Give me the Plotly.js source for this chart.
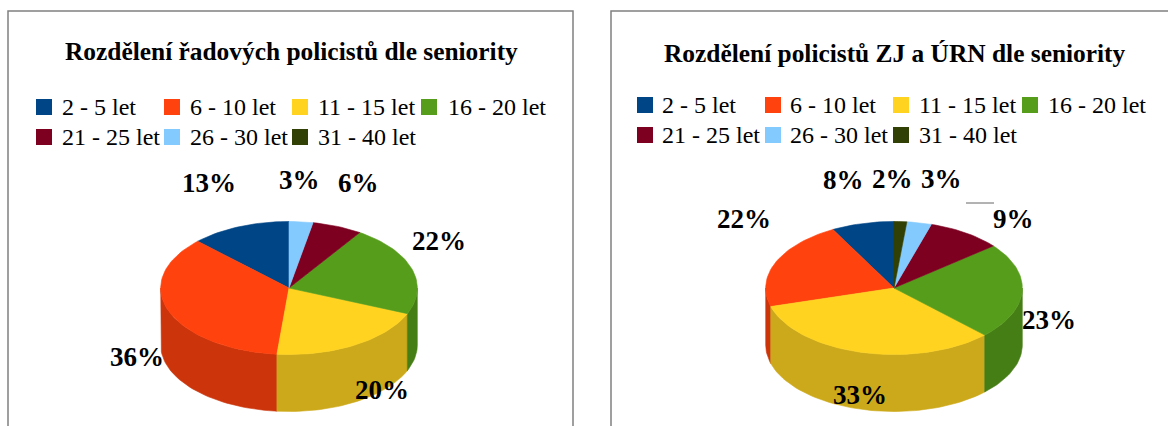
<!DOCTYPE html>
<html>
<head>
<meta charset="utf-8">
<script src="https://cdn.plot.ly/plotly-3.0.1.min.js"></script>
<style>html,body{margin:0;padding:0;background:#fff;overflow:hidden}#c{width:1168px;height:426px}</style>
</head>
<body>
<div id="c"></div>
<script>
// ---- data ----
const categories = ['2 - 5 let','6 - 10 let','11 - 15 let','16 - 20 let','21 - 25 let','26 - 30 let','31 - 40 let'];
const valuesLeft  = [12.6, 35.9, 20.2, 22.0, 6.3, 3.0, 0];
const valuesRight = [7.9, 21.6, 33.0, 23.4, 9.4, 3.1, 1.6];
const sliceColors = ['#004586','#ff420e','#ffd320','#579d1c','#7e0021','#83caff','#314004'];
const wallColors  = ['#00386b','#cc350b','#cca91a','#467e16','#65001a','#699fcc','#273303'];
const titleLeft  = 'Rozdělení řadových policistů dle seniority';
const titleRight = 'Rozdělení policistů ZJ a ÚRN dle seniority';

// ---- layout of the two panels (pixel-scaled axes) ----
const panels = [
  { values: valuesLeft, title: titleLeft, box: [8, 573], titleAt: [291, 51],
    cx: 289, legendX: [[44,59.5],[172,187.5],[300,316],[429,445.5]], legendY: [107,137],
    labels: [[209,183],[137,357],[382,390],[439,241],[358,183],[299,180],null] },
  { values: valuesRight, title: titleRight, box: [611, 1180], titleAt: [895, 53],
    cx: 894, legendX: [[645,659.5],[773,787.5],[901,916.5],[1030,1046]], legendY: [105,135],
    labels: [[843,180],[744,219],[860,395],[1049,320],[1013,219],[941,179],[892,179]] }
];
const RX = 128.3, RY = 66.5, DEPTH = 57, CY = 288;
const rowOf = [0,0,0,0,1,1,1], colOf = [0,1,2,3,0,1,2];
const rad = d => d * Math.PI / 180;

function arc(cx, cy, a0, a1) {
  const n = Math.max(2, Math.ceil(Math.abs(a1 - a0) / 2));
  const xs = [], ys = [];
  for (let i = 0; i <= n; i++) {
    const a = rad(a0 + (a1 - a0) * i / n);
    xs.push(cx + RX * Math.sin(a));
    ys.push(cy - RY * Math.cos(a));
  }
  return [xs, ys];
}
function poly(xs, ys, color) {
  return { type:'scatter', mode:'lines', x:xs, y:ys, fill:'toself', fillcolor:color,
           line:{color:color, width:0.6}, hoverinfo:'skip', showlegend:false, xaxis:'x', yaxis:'y' };
}

const traces = [], annotations = [], shapes = [];
panels.forEach(p => {
  const total = p.values.reduce((a,b)=>a+b,0);
  // clockwise from 12 o'clock the slices run in reverse category order
  const spans = [];
  let end = 360;
  p.values.forEach((v,i) => { const a = v/total*360; spans.push({i, a0:end-a, a1:end}); end -= a; });
  // walls: only the part of the rim facing the viewer (90..270 deg)
  spans.forEach(s => {
    const a0 = Math.max(s.a0, 90), a1 = Math.min(s.a1, 270);
    if (a1 > a0) {
      const [xt,yt] = arc(p.cx, CY, a0, a1);
      const [xb,yb] = arc(p.cx, CY + DEPTH, a1, a0);
      traces.push(poly(xt.concat(xb, [xt[0]]), yt.concat(yb, [yt[0]]), wallColors[s.i]));
    }
  });
  // top faces
  spans.forEach(s => {
    if (s.a1 <= s.a0) return;
    const [xt,yt] = arc(p.cx, CY, s.a0, s.a1);
    traces.push(poly([p.cx].concat(xt,[p.cx]), [CY].concat(yt,[CY]), sliceColors[s.i]));
  });
  // panel frame
  shapes.push({type:'rect', xref:'x', yref:'y', x0:p.box[0], x1:p.box[1], y0:11, y1:440,
               line:{color:'#808080', width:1.5}, fillcolor:'rgba(0,0,0,0)', layer:'below'});
  // title
  annotations.push({x:p.titleAt[0], y:p.titleAt[1], xref:'x', yref:'y', text:'<b>'+p.title+'</b>', showarrow:false,
                    xanchor:'center', yanchor:'middle', font:{family:'Liberation Serif', size:25.4, color:'#000'}});
  // legend keys and labels
  const kx = [], ky = [];
  categories.forEach((c,i) => {
    const col = p.legendX[colOf[i]], y = p.legendY[rowOf[i]];
    kx.push(col[0]); ky.push(y);
    annotations.push({x:col[1], y:y, xref:'x', yref:'y', text:c, showarrow:false, xanchor:'left', yanchor:'middle',
                      font:{family:'Liberation Serif', size:24, color:'#000'}});
  });
  traces.push({type:'scatter', mode:'markers', x:kx, y:ky, hoverinfo:'skip', showlegend:false,
               marker:{symbol:'square', size:16, color:sliceColors, line:{width:0}}});
  // data labels
  p.values.forEach((v,i) => {
    if (!p.labels[i]) return;
    annotations.push({x:p.labels[i][0], y:p.labels[i][1], xref:'x', yref:'y', text:'<b>'+Math.round(v/total*100)+'%</b>',
                      showarrow:false, xanchor:'center', yanchor:'middle',
                      font:{family:'Liberation Serif', size:27, color:'#000'}});
  });
});
// leader line for the 9 % label
shapes.push({type:'line', xref:'x', yref:'y', x0:966, x1:994, y0:203, y1:203, line:{color:'#666', width:1}});

Plotly.newPlot('c', traces, {
  width:1168, height:426, margin:{l:0,r:0,t:0,b:0},
  paper_bgcolor:'#fff', plot_bgcolor:'#fff', showlegend:false,
  xaxis:{range:[0,1168], visible:false, fixedrange:true},
  yaxis:{range:[426,0], visible:false, fixedrange:true},
  shapes, annotations
}, {displayModeBar:false, staticPlot:true});
</script>
</body>
</html>
